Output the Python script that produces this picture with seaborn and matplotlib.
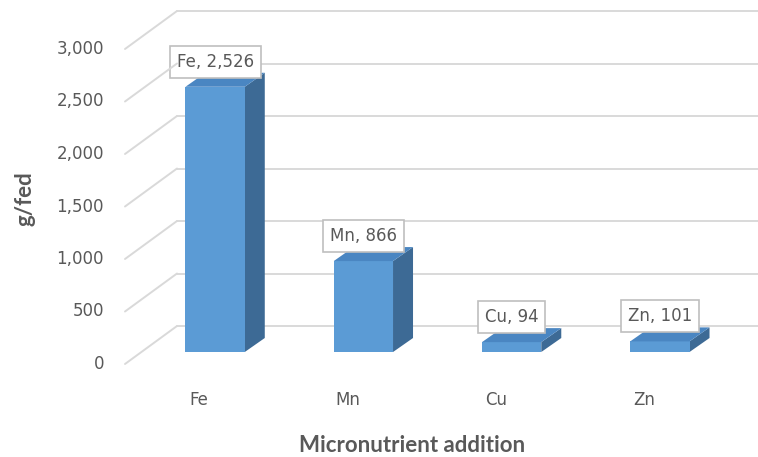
import matplotlib
matplotlib.use("Agg")
import matplotlib.pyplot as plt
import matplotlib.transforms as mtransforms
from matplotlib.patches import Polygon, ConnectionPatch
import pandas as pd
import seaborn as sns

# Micronutrient amounts (g/fed)
nutrients = ["Fe", "Mn", "Cu", "Zn"]
amounts = [2526, 866, 94, 101]
y_ticks = [0, 500, 1000, 1500, 2000, 2500, 3000]
x_title = "Micronutrient addition"
y_title = "g/fed"

FRONT = "#5B9BD5"
SIDE = "#3D6A95"
TOP = "#4A86C2"
GRID = "#D9D9D9"
TEXT = "#595959"
FS = 12
TITLE_FONT = ["Lato", "DejaVu Sans"]
TITLE_FS = 16

sns.set_theme(style="white")
plt.rcParams["font.family"] = ["DejaVu Sans"]

W, H, DPI = 758, 457, 100
fig = plt.figure(figsize=(W / DPI, H / DPI), dpi=DPI)
ax = fig.add_axes([141 / W, 105 / H, 593 / W, 315 / H])

df = pd.DataFrame({"nutrient": nutrients, "amount": amounts})
sns.barplot(data=df, x="nutrient", y="amount", color=FRONT, width=0.4,
            saturation=1, linewidth=0, ax=ax, zorder=3)
ax.set_xlim(-0.5, 3.5)
ax.set_ylim(0, 3000)
ax.axis("off")

# 3-D frame: back wall behind the bars, front edge of the floor in front
back = mtransforms.offset_copy(ax.transData, fig=fig, x=36, y=26, units="dots")
front = mtransforms.offset_copy(ax.transData, fig=fig, x=-16, y=-12, units="dots")
tick_pos = mtransforms.offset_copy(ax.transData, fig=fig, x=-37, y=-12, units="dots")

for v in y_ticks:
    ax.plot([-0.5, 3.9], [v, v], transform=back, color=GRID, lw=1.4,
            clip_on=False, zorder=1)
    con = ConnectionPatch(xyA=(-0.5, v), coordsA=back, xyB=(-0.5, v),
                          coordsB=front, color=GRID, lw=1.4, zorder=1)
    fig.add_artist(con)
    ax.text(-0.5, v, f"{v:,}", transform=tick_pos, ha="right", va="center",
            color=TEXT, fontsize=FS, clip_on=False)

# bar depth in data units
p0 = ax.transData.transform((0, 0))
dd = ax.transData.inverted().transform(p0 + [20, 14])
ddx, ddy = dd[0], dd[1]

for bar in list(ax.patches):
    x0, w, h = bar.get_x(), bar.get_width(), bar.get_height()
    x1 = x0 + w
    side = Polygon([(x1, 0), (x1, h), (x1 + ddx, h + ddy), (x1 + ddx, ddy)],
                   closed=True, fc=SIDE, ec="none", zorder=2.5, clip_on=False)
    top = Polygon([(x0, h), (x1, h), (x1 + ddx, h + ddy), (x0 + ddx, h + ddy)],
                  closed=True, fc=TOP, ec="none", zorder=3.5, clip_on=False)
    ax.add_patch(side)
    ax.add_patch(top)
    bar.set_clip_on(False)

cat_pos = mtransforms.offset_copy(ax.transData, fig=fig, x=-16, y=-48, units="dots")
for i, (n, v) in enumerate(zip(nutrients, amounts)):
    ax.annotate(f"{n}, {v:,}", xy=(i, v), xytext=(0, 25),
                textcoords="offset pixels", ha="center", va="center",
                color=TEXT, fontsize=FS, zorder=5, annotation_clip=False,
                bbox=dict(boxstyle="square,pad=0.42", fc="white",
                          ec="#BFBFBF", lw=1.2))
    ax.text(i, 0, n, transform=cat_pos, ha="center", va="center", color=TEXT,
            fontsize=FS, clip_on=False)

fig.text(412 / W, 1 - 445 / H, x_title, ha="center", va="center",
         color=TEXT, fontsize=TITLE_FS, fontweight="bold", family=TITLE_FONT)
fig.text(25 / W, 1 - 199 / H, y_title, ha="center", va="center",
         rotation=90, color=TEXT, fontsize=TITLE_FS, fontweight="bold",
         family=TITLE_FONT)

fig.savefig("out.png", dpi=DPI, facecolor="white")
